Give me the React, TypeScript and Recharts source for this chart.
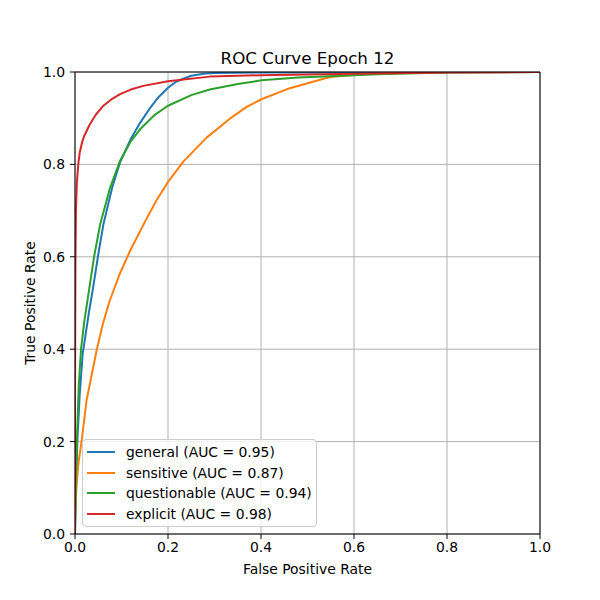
import React from 'react';
import { LineChart, Line, XAxis, YAxis, CartesianGrid, ReferenceLine } from 'recharts';

const FONT = '"DejaVu Sans", sans-serif';

// [false positive rate, true positive rate]
const generalRoc: number[][] = [
  [0, 0], [0.002, 0.1], [0.005, 0.2], [0.01, 0.3], [0.0165, 0.39], [0.03, 0.48],
  [0.04, 0.54], [0.05, 0.605], [0.061, 0.67], [0.08, 0.75], [0.097, 0.805], [0.12, 0.855],
  [0.14, 0.89], [0.16, 0.92], [0.18, 0.946], [0.2, 0.966], [0.219, 0.98], [0.25, 0.992],
  [0.276, 0.996], [0.3, 0.998], [0.4, 0.999], [1, 1],
];
const sensitiveRoc: number[][] = [
  [0, 0], [0, 0.03], [0.003, 0.1], [0.007, 0.15], [0.014, 0.2], [0.025, 0.29],
  [0.047, 0.4], [0.06, 0.455], [0.075, 0.506], [0.095, 0.56], [0.118, 0.612], [0.15, 0.675],
  [0.175, 0.722], [0.2, 0.762], [0.233, 0.806], [0.283, 0.858], [0.333, 0.899], [0.37, 0.925],
  [0.401, 0.941], [0.462, 0.965], [0.548, 0.989], [0.62, 0.995], [0.7, 0.998], [0.8, 1], [1, 1],
];
const questionableRoc: number[][] = [
  [0, 0], [0.002, 0.12], [0.004, 0.2], [0.008, 0.32], [0.013, 0.4], [0.02, 0.46],
  [0.032, 0.54], [0.041, 0.6], [0.054, 0.67], [0.075, 0.748], [0.097, 0.808], [0.12, 0.85],
  [0.14, 0.876], [0.17, 0.906], [0.2, 0.927], [0.25, 0.95], [0.29, 0.962], [0.35, 0.974],
  [0.401, 0.982], [0.48, 0.988], [0.548, 0.991], [0.65, 0.995], [0.8, 0.999], [1, 1],
];
const explicitRoc: number[][] = [
  [0, 0], [0, 0.3], [0.001, 0.6], [0.002, 0.7], [0.004, 0.76], [0.007, 0.8],
  [0.01, 0.825], [0.015, 0.847], [0.02, 0.862], [0.032, 0.887], [0.045, 0.908], [0.061, 0.927],
  [0.08, 0.942], [0.097, 0.952], [0.12, 0.962], [0.147, 0.97], [0.2, 0.98], [0.29, 0.99],
  [0.4, 0.993], [0.6, 0.996], [0.8, 0.999], [1, 1],
];

const seriesNames = ['general', 'sensitive', 'questionable', 'explicit'];
const seriesAuc = [0.95, 0.87, 0.94, 0.98];
const seriesColors = ['#1f77b4', '#ff7f0e', '#2ca02c', '#d62728'];
const seriesPoints = [generalRoc, sensitiveRoc, questionableRoc, explicitRoc];
const ticks = [0, 0.2, 0.4, 0.6, 0.8, 1];

const series = seriesNames.map((name, i) => ({
  name,
  label: `${name} (AUC = ${seriesAuc[i].toFixed(2)})`,
  color: seriesColors[i],
  data: seriesPoints[i].map(([fpr, tpr]) => ({ fpr, tpr })),
}));

const tickStyle = { fontFamily: FONT, fontSize: 13.9, fill: '#000' };

export default function App() {
  return (
    <div style={{ position: 'absolute', left: 0, top: 0, width: 600, height: 600, background: '#fff', fontFamily: FONT }}>
      <LineChart width={600} height={600} margin={{ top: 72, right: 60, bottom: 36, left: 15 }}>
        <CartesianGrid stroke="#b0b0b0" strokeWidth={1} />
        <XAxis
          dataKey="fpr"
          type="number"
          domain={[0, 1]}
          ticks={ticks}
          allowDataOverflow
          tickFormatter={(v: number) => v.toFixed(1)}
          height={30}
          tickSize={5}
          tickMargin={3}
          tick={tickStyle}
          stroke="#000"
        />
        <YAxis
          dataKey="tpr"
          type="number"
          domain={[0, 1]}
          ticks={ticks}
          allowDataOverflow
          tickFormatter={(v: number) => v.toFixed(1)}
          width={60}
          tickSize={5}
          tickMargin={5}
          tick={tickStyle}
          stroke="#000"
        />
        {series.map((s) => (
          <Line
            key={s.name}
            data={s.data}
            dataKey="tpr"
            name={s.label}
            type="linear"
            stroke={s.color}
            strokeWidth={2}
            strokeLinejoin="round"
            dot={false}
            isAnimationActive={false}
          />
        ))}
        <ReferenceLine y={1} stroke="#000" strokeWidth={1} />
        <ReferenceLine x={1} stroke="#000" strokeWidth={1} />
      </LineChart>

      <div style={{ position: 'absolute', left: 75, width: 465, top: 48, height: 20, lineHeight: '20px', textAlign: 'center', fontSize: 16.7 }}>
        ROC Curve Epoch 12
      </div>
      <div style={{ position: 'absolute', left: 75, width: 465, top: 559, height: 20, lineHeight: '20px', textAlign: 'center', fontSize: 13.9 }}>
        False Positive Rate
      </div>
      <div
        style={{
          position: 'absolute', left: 30, top: 303, fontSize: 13.9, whiteSpace: 'nowrap',
          transform: 'translate(-50%, -50%) rotate(-90deg)',
        }}
      >
        True Positive Rate
      </div>

      <div
        style={{
          position: 'absolute', left: 82, top: 439, width: 235, height: 88, boxSizing: 'border-box',
          border: '1px solid #cccccc', borderRadius: 4, background: 'rgba(255,255,255,0.8)',
          paddingTop: 2,
        }}
      >
        {series.map((s) => (
          <div key={s.name} style={{ display: 'flex', alignItems: 'center', height: 20.5, fontSize: 13.9 }}>
            <div style={{ marginLeft: 4, width: 28, height: 2, background: s.color }} />
            <span style={{ marginLeft: 11 }}>{s.label}</span>
          </div>
        ))}
      </div>
    </div>
  );
}
